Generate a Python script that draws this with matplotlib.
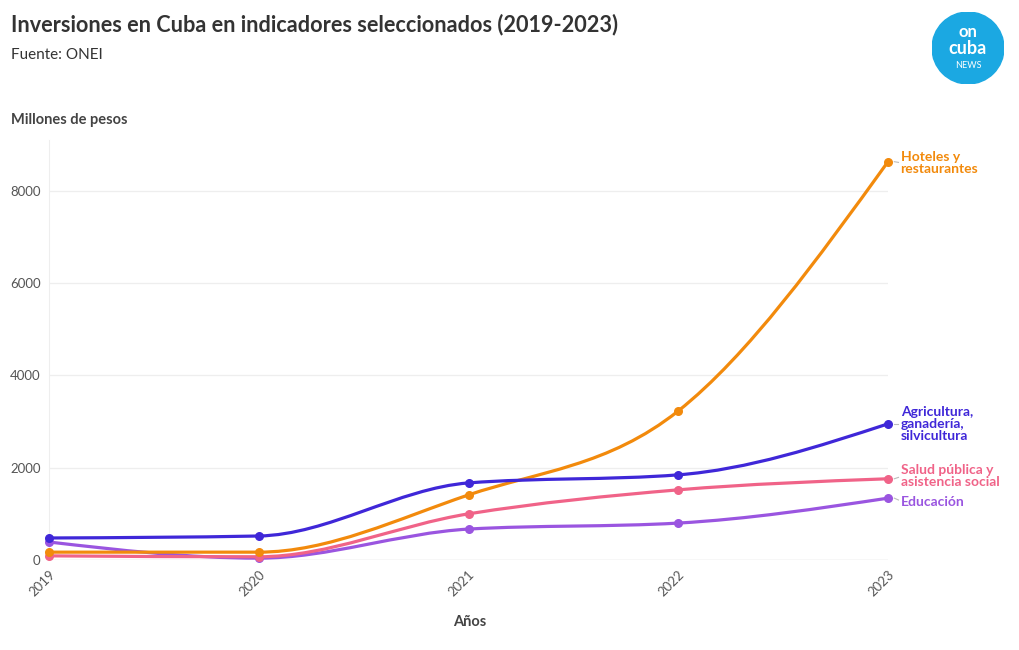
import numpy as np
import matplotlib.pyplot as plt
from matplotlib.patches import Circle, PathPatch
from matplotlib.path import Path

plt.rcParams['font.family'] = ['Lato', 'DejaVu Sans']

years = [2019, 2020, 2021, 2022, 2023]
hoteles = [170, 170, 1410, 3230, 8630]
agricultura = [477, 520, 1670, 1845, 2950]
salud = [90, 70, 1000, 1520, 1760]
educacion = [390, 40, 670, 800, 1340]

series = [
    ("Educación", educacion, "#9a55e0", 0),
    ("Salud pública y\nasistencia social", salud, "#f06388", 1),
    ("Hoteles y\nrestaurantes", hoteles, "#f28a0c", 2),
    ("Agricultura,\nganadería,\nsilvicultura", agricultura, "#3f27d8", 3),
]
label_y = {0: 1260, 1: 1820, 2: 8600, 3: 2950}


def monotone_path(x, y):
    # monotone cubic (like d3.curveMonotoneX)
    x = np.asarray(x, float)
    y = np.asarray(y, float)
    n = len(x)
    h = np.diff(x)
    s = np.diff(y) / h
    t = np.zeros(n)
    for i in range(1, n - 1):
        p = (s[i - 1] * h[i] + s[i] * h[i - 1]) / (h[i - 1] + h[i])
        sg = (1 if s[i - 1] >= 0 else -1) + (1 if s[i] >= 0 else -1)
        t[i] = sg * min(abs(s[i - 1]), abs(s[i]), 0.5 * abs(p))
    t[0] = (3 * s[0] - t[1]) / 2
    t[-1] = (3 * s[-1] - t[-2]) / 2
    verts = [(x[0], y[0])]
    codes = [Path.MOVETO]
    for i in range(n - 1):
        dx = h[i] / 3
        verts += [(x[i] + dx, y[i] + dx * t[i]), (x[i + 1] - dx, y[i + 1] - dx * t[i + 1]), (x[i + 1], y[i + 1])]
        codes += [Path.CURVE4] * 3
    return Path(verts, codes)


fig = plt.figure(figsize=(10.2, 6.5), dpi=100)
ax = fig.add_axes([49 / 1020, 90 / 650, 839 / 1020, 420 / 650])
ax.set_xlim(2019, 2023)
ax.set_ylim(0, 9100)

for name, vals, col, k in series:
    ax.add_patch(PathPatch(monotone_path(years, vals), fill=False, edgecolor=col, lw=2.3,
                           clip_on=False, zorder=3))
    ax.scatter(years, vals, color=col, s=30, clip_on=False, zorder=4)
    ax.plot([2023.03, 2023.05], [vals[-1], (vals[-1] + label_y[k]) / 2], color="#bbbbbb", lw=0.8, clip_on=False)
    ax.text(2023.06, label_y[k], name, color=col, fontsize=10, fontweight="bold",
            va="center", ha="left", linespacing=1.0, clip_on=False)

ax.set_yticks([0, 2000, 4000, 6000, 8000])
ax.set_xticks(years)
ax.set_xticklabels([str(y) for y in years], rotation=45, ha="right", rotation_mode="anchor")
ax.tick_params(axis="both", length=0, labelsize=9.5, colors="#555555", pad=6)
ax.grid(axis="y", color="#eeeeee", lw=0.9)
ax.axhline(0, color="#e3e3e3", lw=1, zorder=1)
for s in ["top", "right", "bottom"]:
    ax.spines[s].set_visible(False)
ax.spines["left"].set_color("#eeeeee")
ax.set_axisbelow(True)

fig.text(11 / 1020, 1 - 25 / 650, "Inversiones en Cuba en indicadores seleccionados (2019-2023)",
         fontsize=15.6, fontweight="bold", color="#333333", va="center")
fig.text(11 / 1020, 1 - 55 / 650, "Fuente: ONEI", fontsize=11, color="#333333", va="center")
fig.text(11 / 1020, 1 - 120 / 650, "Millones de pesos", fontsize=10.5, fontweight="bold",
         color="#444444", va="center")
fig.text(470 / 1020, 1 - 622 / 650, "Años", fontsize=10.5, fontweight="bold", color="#444444",
         ha="center", va="center")

# logo
logo = fig.add_axes([932 / 1020, 1 - 84 / 650, 72 / 1020, 72 / 650])
logo.set_xlim(-1, 1)
logo.set_ylim(-1, 1)
logo.set_aspect("equal")
logo.axis("off")
logo.add_patch(Circle((0, 0), 1, color="#1ba8e2"))
logo.text(0, 0.45, "on", color="white", fontsize=12, fontweight="bold", ha="center", va="center")
logo.text(0, 0.0, "cuba", color="white", fontsize=13, fontweight="bold", ha="center", va="center")
logo.text(0, -0.5, "NEWS", color="white", fontsize=6.5, ha="center", va="center")

fig.savefig("out.png", dpi=100, facecolor="white")
